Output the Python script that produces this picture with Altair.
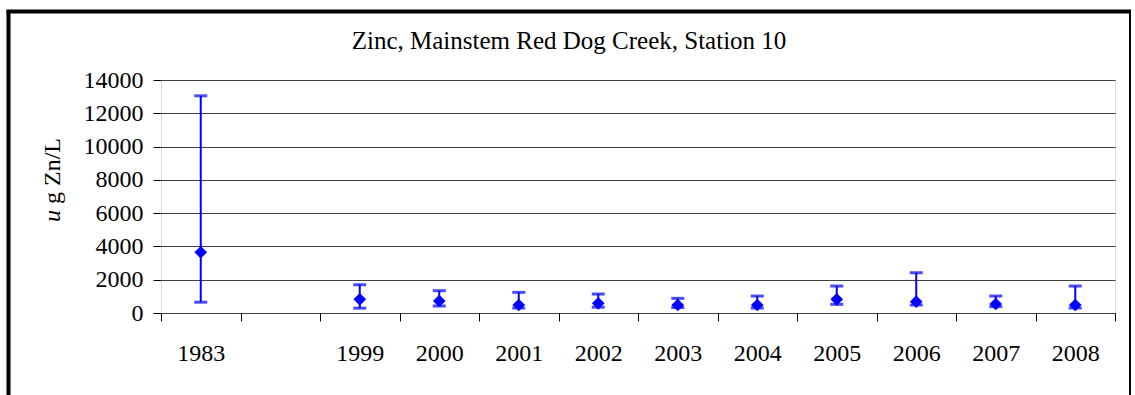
import altair as alt
import pandas as pd

# Station 10 zinc concentrations (ug Zn/L): mean with min/max range per year
years = ["1983", "1999", "2000", "2001", "2002", "2003", "2004", "2005", "2006", "2007", "2008"]
mean_zn = [3650, 820, 720, 480, 580, 480, 480, 820, 680, 540, 480]
low_zn = [650, 290, 420, 300, 350, 330, 300, 520, 480, 380, 300]
high_zn = [13050, 1700, 1340, 1240, 1140, 880, 1020, 1620, 2420, 1020, 1620]

# x slots: an empty slot separates 1983 from the 1999-2008 series
x_domain = ["1983", " "] + years[1:]
y_ticks = [0, 2000, 4000, 6000, 8000, 10000, 12000, 14000]
title_text = "Zinc, Mainstem Red Dog Creek, Station 10"

df = pd.DataFrame({"year": years, "mean": mean_zn, "low": low_zn, "high": high_zn})

FONT = "Liberation Serif"
BLUE = "#0000FF"
W, H = 954, 233
PAD_L, PAD_T = 161, 80

x_axis = alt.Axis(
    title=None, labelAngle=0, tickBand="extent", grid=False, domain=False,
    tickColor="black", tickSize=8, labelPadding=20, labelFontSize=24,
    labelFont=FONT, labelColor="black",
)
x_enc = alt.X(
    "year:N",
    scale=alt.Scale(domain=x_domain, paddingInner=0, paddingOuter=0),
    axis=x_axis,
)
y_scale = alt.Scale(domain=[0, 14000], nice=False)
y_axis = alt.Axis(
    title=None, values=y_ticks, format="d", grid=True, gridColor="#404040",
    gridWidth=1, domain=False, tickColor="black", tickSize=8, labelPadding=10,
    labelFontSize=24, labelFont=FONT, labelColor="black", labelOverlap=False,
)


def y_enc(field):
    return alt.Y(field, scale=y_scale, axis=y_axis)


base = alt.Chart(df)

ranges = base.mark_rule(color=BLUE, strokeWidth=2).encode(
    x=x_enc, y=y_enc("low:Q"), y2="high:Q",
)
caps_hi = base.mark_tick(color=BLUE, size=13, thickness=3).encode(
    x=x_enc, y=y_enc("high:Q")
)
caps_lo = base.mark_tick(color=BLUE, size=13, thickness=3).encode(
    x=x_enc, y=y_enc("low:Q")
)
points = base.mark_point(shape="diamond", filled=True, color=BLUE, size=160, opacity=1).encode(
    x=x_enc, y=y_enc("mean:Q")
)

one = alt.Chart(pd.DataFrame({"k": [0]}))

# chart title
title = one.mark_text(
    text=title_text, align="center", baseline="alphabetic", font=FONT,
    fontSize=25, color="black",
).encode(x=alt.value(569 - PAD_L), y=alt.value(49 - PAD_T))

# y-axis title with an italic "u"
ytitle_u = one.mark_text(
    text="u", angle=270, align="left", baseline="alphabetic", font=FONT,
    fontSize=24, fontStyle="italic", color="black",
).encode(x=alt.value(60 - PAD_L), y=alt.value(222 - PAD_T))
ytitle_rest = one.mark_text(
    text="g Zn/L", angle=270, align="left", baseline="alphabetic", font=FONT,
    fontSize=24, color="black",
).encode(x=alt.value(60 - PAD_L), y=alt.value(204 - PAD_T))

# outer frame around the whole chart
frame_left = one.mark_rule(color="black", strokeWidth=4).encode(
    x=alt.value(8.5 - PAD_L), y=alt.value(10 - PAD_T), y2=alt.value(400 - PAD_T)
)
frame_top = one.mark_rule(color="black", strokeWidth=4).encode(
    x=alt.value(6.5 - PAD_L), x2=alt.value(1131 - PAD_L), y=alt.value(11.5 - PAD_T)
)
frame_right = one.mark_rule(color="black", strokeWidth=2).encode(
    x=alt.value(1130 - PAD_L), y=alt.value(10 - PAD_T), y2=alt.value(400 - PAD_T)
)

chart = alt.layer(
    ranges, caps_hi, caps_lo, points, title, ytitle_u, ytitle_rest,
    frame_left, frame_top, frame_right,
).properties(
    width=W,
    height=H,
    autosize=alt.AutoSizeParams(type="none"),
    padding={"left": PAD_L, "top": PAD_T, "right": 1135 - PAD_L - W, "bottom": 395 - PAD_T - H},
).configure_view(
    stroke="#808080", strokeWidth=3
).configure_axis(
    labelFont=FONT, labelFontSize=24, labelColor="black"
).configure(background="white")

chart.save("out.html", embed_options={"renderer": "svg", "actions": False})
